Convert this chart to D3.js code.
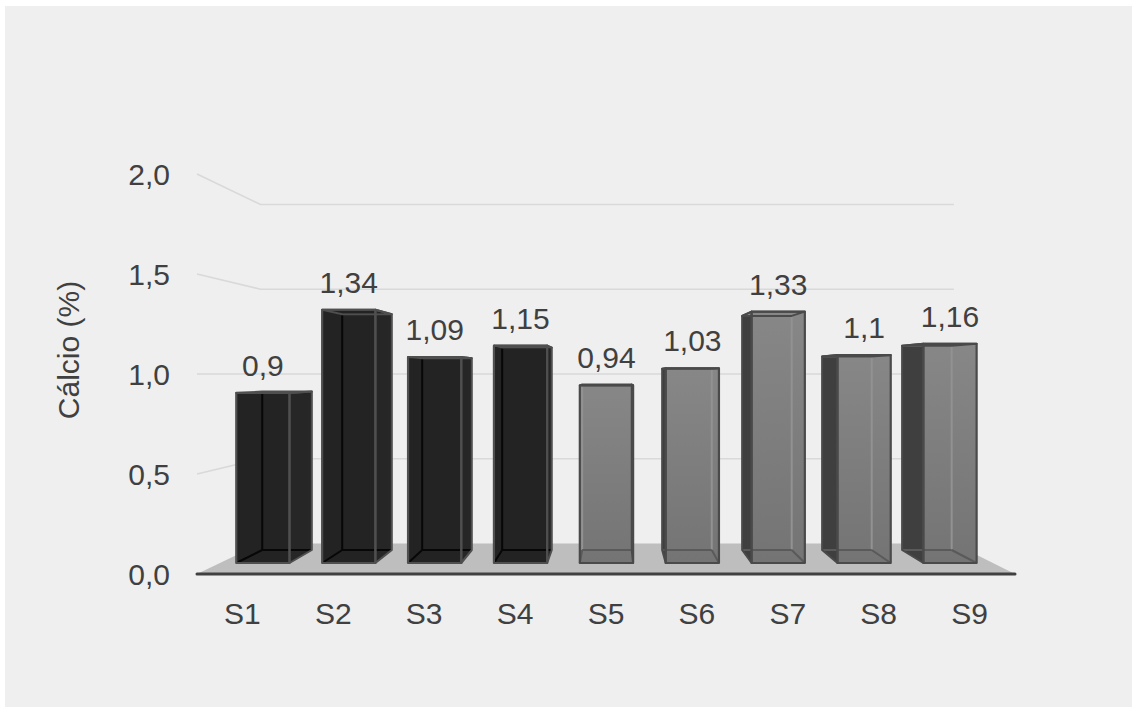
<!DOCTYPE html>
<html>
<head>
<meta charset="utf-8">
<script src="https://cdn.jsdelivr.net/npm/d3@7"></script>
<style>
  html, body { margin: 0; padding: 0; background: #ffffff; }
  svg { display: block; font-family: "Liberation Sans", Arial, sans-serif; }
</style>
</head>
<body>
<svg id="chart" width="1132" height="707"></svg>
<script>
// ---- data ----
const categories = ["S1", "S2", "S3", "S4", "S5", "S6", "S7", "S8", "S9"];
const values = [0.9, 1.34, 1.09, 1.15, 0.94, 1.03, 1.33, 1.1, 1.16];
const groups = ["A", "A", "A", "A", "B", "B", "B", "B", "B"];
const yTicks = [0, 0.5, 1.0, 1.5, 2.0];
const yTitle = "Cálcio (%)";

// ---- layout ----
const W = 1132, H = 707;
const svg = d3.select("#chart");
const locale = d3.formatLocale({ decimal: ",", thousands: ".", grouping: [3], currency: ["", ""] });
const fmtTick = locale.format(".1f");
const fmtValue = locale.format(".3~g");

// front plane scales (floor front edge)
const x = d3.scaleBand().domain(categories).range([197, 1015]);
const y = d3.scaleLinear().domain([0, 2]).range([574, 174]);

// perspective: vanishing point and depth scale factors
const VP = { x: 614, y: y(1) };
const DEPTH = { floorFront: 1, barFront: 0.945, barBack: 0.88, wall: 0.8475 };
const barFrac = 0.62;

function proj(X, v, s) {
  return [VP.x + (X - VP.x) * s, VP.y + (y(v) - VP.y) * s];
}

// panel background
svg.append("rect").attr("x", 5).attr("y", 6).attr("width", W - 5).attr("height", H - 6).attr("fill", "#efefef");

// gradient for the lighter series
const defs = svg.append("defs");
const grad = defs.append("linearGradient").attr("id", "gradB").attr("x1", 0).attr("y1", 0).attr("x2", 0).attr("y2", 1);
grad.append("stop").attr("offset", "0%").attr("stop-color", "#878787");
grad.append("stop").attr("offset", "100%").attr("stop-color", "#747474");

const [xL, xR] = x.range();

// wall gridlines (side wall + back wall)
const line = d3.line();
svg.append("g").selectAll("path").data(yTicks.filter(t => t > 0)).join("path")
  .attr("d", t => line([proj(xL, t, 1), proj(xL, t, DEPTH.wall), proj(xR, t, DEPTH.wall)]))
  .attr("fill", "none").attr("stroke", "#d9d9d9").attr("stroke-width", 1.6);

// floor
svg.append("path")
  .attr("d", line([proj(xL, 0, 1), proj(xR, 0, 1), proj(xR, 0, DEPTH.wall), proj(xL, 0, DEPTH.wall)]) + "Z")
  .attr("fill", "#bebebe");
svg.append("path")
  .attr("d", line([proj(xL, 0, 1), proj(xR, 0, 1)]))
  .attr("stroke", "#404040").attr("stroke-width", 3).attr("stroke-linecap", "round");

// series styles
const styles = {
  A: { front: "#232323", side: "#262626", top: "#262626", hiddenV: "#070707", hiddenH: "#070707", edge: "#4f4f4f" },
  B: { front: "url(#gradB)", side: "#3f3f3f", top: "#8a8a8a", hiddenV: "#929292", hiddenH: "#5a5a5a", edge: "#4a4a4a" }
};

// 3D boxes
const bars = svg.append("g");
categories.forEach((c, i) => {
  const v = values[i];
  const st = styles[groups[i]];
  const cx = x(c) + x.bandwidth() / 2;
  const hw = x.bandwidth() * barFrac / 2;
  const x0 = cx - hw, x1 = cx + hw;
  const sf = DEPTH.barFront, sb = DEPTH.barBack;
  const fbl = proj(x0, 0, sf), fbr = proj(x1, 0, sf), ftl = proj(x0, v, sf), ftr = proj(x1, v, sf);
  const bbl = proj(x0, 0, sb), bbr = proj(x1, 0, sb), btl = proj(x0, v, sb), btr = proj(x1, v, sb);
  const rightVisible = cx < VP.x;
  const g = bars.append("g");
  const poly = pts => line(pts) + "Z";

  // visible side face
  const side = rightVisible ? [fbr, bbr, btr, ftr] : [fbl, bbl, btl, ftl];
  g.append("path").attr("d", poly(side)).attr("fill", st.side);
  // top face (seen from above or from below through the box)
  g.append("path").attr("d", poly([ftl, ftr, btr, btl])).attr("fill", st.top);
  // front face
  g.append("path").attr("d", poly([fbl, fbr, ftr, ftl])).attr("fill", st.front);

  // edges seen through the translucent box
  const hiddenV = rightVisible ? [bbl, btl] : [bbr, btr];
  const hiddenDiag = rightVisible ? [fbl, bbl] : [fbr, bbr];
  const hiddenTopDiag = rightVisible ? [ftl, btl] : [ftr, btr];
  g.append("path").attr("d", line(hiddenV)).attr("stroke", st.hiddenV).attr("stroke-width", 2).attr("fill", "none");
  g.append("path").attr("d", line([bbl, bbr])).attr("stroke", st.hiddenH).attr("stroke-width", 2).attr("fill", "none");
  g.append("path").attr("d", line(hiddenDiag)).attr("stroke", st.hiddenH).attr("stroke-width", 2).attr("fill", "none");
  if (v > 1) {
    g.append("path").attr("d", line([btl, btr])).attr("stroke", st.hiddenV).attr("stroke-width", 1.6).attr("fill", "none");
    g.append("path").attr("d", line(hiddenTopDiag)).attr("stroke", st.hiddenV).attr("stroke-width", 1.6).attr("fill", "none");
  }

  // visible edges
  g.append("path").attr("d", poly(side)).attr("stroke", st.edge).attr("stroke-width", 2).attr("fill", "none").attr("stroke-linejoin", "round");
  g.append("path").attr("d", poly([ftl, ftr, btr, btl])).attr("stroke", st.edge).attr("stroke-width", 2).attr("fill", "none").attr("stroke-linejoin", "round");
  g.append("path").attr("d", poly([fbl, fbr, ftr, ftl])).attr("stroke", st.edge).attr("stroke-width", 2.2).attr("fill", "none").attr("stroke-linejoin", "round");

  // value label
  const top = proj(cx, v, sf);
  svg.append("text")
    .attr("x", top[0]).attr("y", top[1] - 17)
    .attr("text-anchor", "middle")
    .attr("font-size", 30).attr("fill", "#404040")
    .text(fmtValue(v));
});

// y tick labels
svg.append("g").selectAll("text").data(yTicks).join("text")
  .attr("x", 170).attr("y", t => y(t)).attr("dy", "0.35em")
  .attr("text-anchor", "end").attr("font-size", 30).attr("fill", "#404040")
  .text(t => fmtTick(t));

// category labels
svg.append("g").selectAll("text").data(categories).join("text")
  .attr("x", c => x(c) + x.bandwidth() / 2).attr("y", 624)
  .attr("text-anchor", "middle").attr("font-size", 30).attr("fill", "#404040")
  .text(c => c);

// axis title
svg.append("text")
  .attr("transform", "translate(79,350) rotate(-90)")
  .attr("text-anchor", "middle").attr("font-size", 30).attr("fill", "#404040")
  .text(yTitle);
</script>
</body>
</html>
